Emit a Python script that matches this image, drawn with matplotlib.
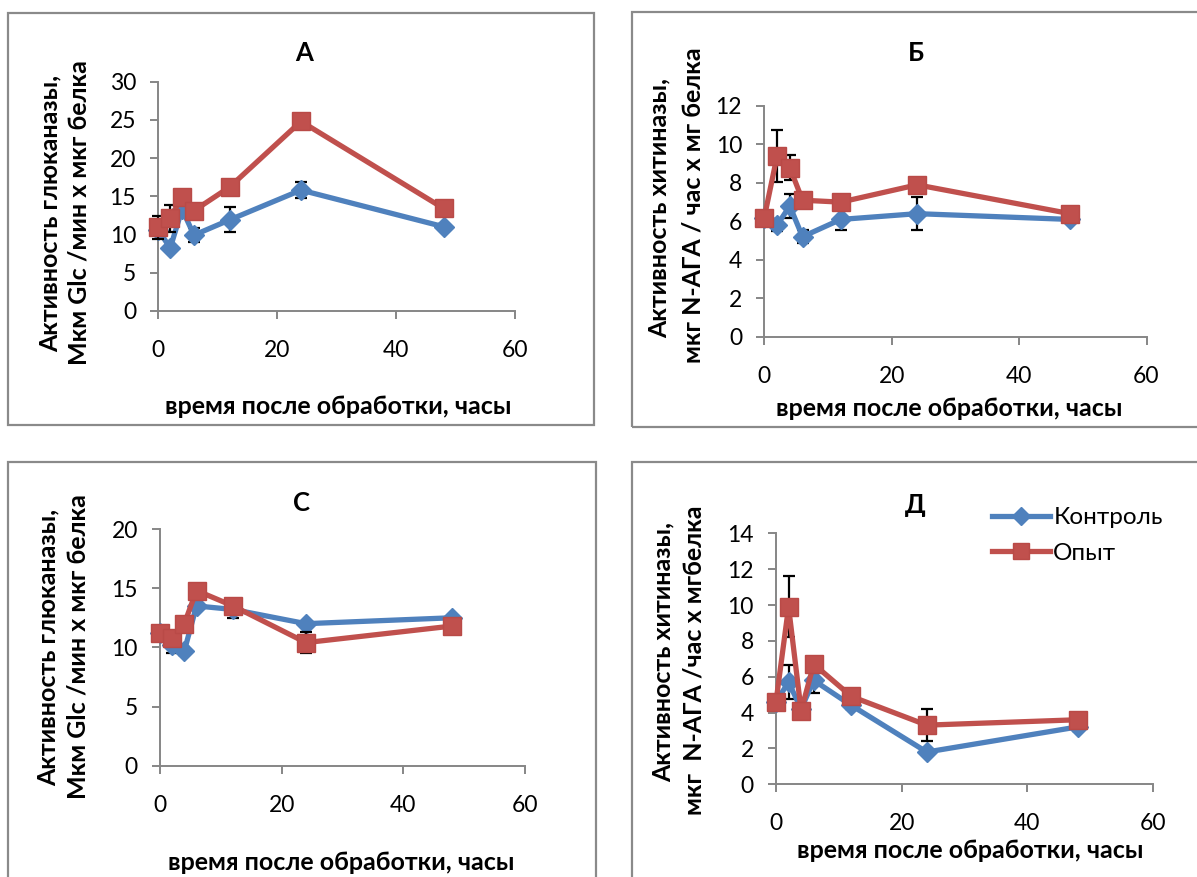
import matplotlib
matplotlib.use('Agg')
import matplotlib.pyplot as plt
from matplotlib.patches import Rectangle

plt.rcParams['font.family'] = ['Lato', 'DejaVu Sans']

# ---------------- data ----------------
hours = [0, 2, 4, 6, 12, 24, 48]
series_names = ['Контроль', 'Опыт']
xlabel_text = 'время после обработки, часы'

# Panel А – glucanase
a_ctrl = [10.6, 8.2, 13.3, 9.9, 11.9, 15.8, 11.0]
a_ctrl_err = [0, 0, 0, 0.9, 1.65, 1.1, 0.3]
a_exp = [10.9, 12.1, 14.9, 13.1, 16.2, 24.8, 13.4]
a_exp_err = [1.55, 1.8, 0, 0, 0, 0, 0]

# Panel Б – chitinase
b_ctrl = [6.2, 5.8, 6.8, 5.2, 6.1, 6.4, 6.1]
b_ctrl_err = [0, 0.3, 0.6, 0.35, 0.55, 0.85, 0]
b_exp = [6.2, 9.4, 8.8, 7.1, 7.0, 7.9, 6.4]
b_exp_err = [0, 1.35, 0.65, 0, 0.35, 0, 0]

# Panel С – glucanase
c_ctrl = [11.2, 10.2, 9.7, 13.5, 13.2, 12.0, 12.5]
c_ctrl_err = [0, 0.65, 0.35, 0.35, 0.75, 0, 0]
c_exp = [11.2, 10.8, 12.0, 14.8, 13.5, 10.4, 11.8]
c_exp_err = [0, 0, 0, 0, 0, 0.9, 0]

# Panel Д – chitinase
d_ctrl = [4.6, 5.7, 4.2, 5.8, 4.4, 1.8, 3.2]
d_ctrl_err = [0, 0.95, 0, 0.7, 0.2, 0, 0.2]
d_exp = [4.6, 9.9, 4.1, 6.7, 4.9, 3.3, 3.6]
d_exp_err = [0, 1.7, 0, 0, 0, 0.9, 0]

x_ticks = [0, 20, 40, 60]
a_yticks = [0, 5, 10, 15, 20, 25, 30]
b_yticks = [0, 2, 4, 6, 8, 10, 12]
c_yticks = [0, 5, 10, 15, 20]
d_yticks = [0, 2, 4, 6, 8, 10, 12, 14]

titles = ['А', 'Б', 'С', 'Д']
ylabels = [
    ('Активность глюканазы,', 'Мкм Glc /мин х мкг белка'),
    ('Активность хитиназы,', 'мкг N-АГА / час х мг белка'),
    ('Активность глюканазы,', 'Мкм Glc /мин х мкг белка'),
    ('Активность хитиназы,', 'мкг  N-АГА /час х мгбелка'),
]

# ---------------- layout ----------------
W, H = 1197, 877
fig = plt.figure(figsize=(W / 100, H / 100), dpi=100)

BLUE = '#4F81BD'
RED = '#C0504D'
AXC = '#868686'
FRAME = '#8A8A8A'


def fx(x):
    return x / W


def fy(y):
    return 1 - y / H


panels = [
    dict(ax=(158.3, 81.7, 515, 310.7), yt=a_yticks,
         ctrl=a_ctrl, ctrl_err=a_ctrl_err, exp=a_exp, exp_err=a_exp_err,
         title=(304, 53), yl_x=(50, 79), yl_y=(213, 213), xl=(338, 407),
         frame=(8, 13, 594, 425)),
    dict(ax=(764.3, 106, 1146.5, 336.7), yt=b_yticks,
         ctrl=b_ctrl, ctrl_err=b_ctrl_err, exp=b_exp, exp_err=b_exp_err,
         title=(916, 53), yl_x=(659, 693), yl_y=(208, 205), xl=(949, 408),
         frame=(632, 12, 1205, 427)),
    dict(ax=(160, 529, 525, 765.7), yt=c_yticks,
         ctrl=c_ctrl, ctrl_err=c_ctrl_err, exp=c_exp, exp_err=c_exp_err,
         title=(302, 503), yl_x=(48, 78), yl_y=(647, 647), xl=(341, 862),
         frame=(8, 462, 596, 890)),
    dict(ax=(776, 533.3, 1153, 784.3), yt=d_yticks,
         ctrl=d_ctrl, ctrl_err=d_ctrl_err, exp=d_exp, exp_err=d_exp_err,
         title=(915, 505), yl_x=(663, 694), yl_y=(652, 660), xl=(970, 850),
         frame=(632, 462, 1205, 890)),
]

TICK_FS = 16.5
LAB_FS = 18
TITLE_FS = 18.5

for i, p in enumerate(panels):
    x0, y0, x1, y1 = p['frame']
    fig.add_artist(Rectangle((fx(x0), fy(y1)), (x1 - x0) / W, (y1 - y0) / H,
                             transform=fig.transFigure, fill=False,
                             ec=FRAME, lw=1.6, zorder=0))
    l, t, r, b = p['ax']
    ax = fig.add_axes([fx(l), fy(b), (r - l) / W, (b - t) / H])
    ax.set_xlim(0, 60)
    ax.set_ylim(p['yt'][0], p['yt'][-1])
    ax.set_xticks(x_ticks)
    ax.set_yticks(p['yt'])
    for s in ['top', 'right']:
        ax.spines[s].set_visible(False)
    for s in ['left', 'bottom']:
        ax.spines[s].set_color(AXC)
        ax.spines[s].set_linewidth(1.4)
    ax.tick_params(axis='both', colors=AXC, length=6, width=1.4,
                   labelcolor='black', labelsize=TICK_FS, direction='out')
    ax.tick_params(axis='x', pad=15)
    ax.tick_params(axis='y', pad=10)

    ax.errorbar(hours, p['ctrl'], yerr=p['ctrl_err'], fmt='none',
                ecolor='black', elinewidth=1.6, capsize=4.5, capthick=1.6,
                zorder=3, clip_on=False)
    ax.plot(hours, p['ctrl'], color=BLUE, lw=3.8, marker='D', ms=10.5,
            mfc=BLUE, mec=BLUE, zorder=4, clip_on=False, label=series_names[0])
    ax.errorbar(hours, p['exp'], yerr=p['exp_err'], fmt='none',
                ecolor='black', elinewidth=1.6, capsize=4.5, capthick=1.6,
                zorder=5, clip_on=False)
    ax.plot(hours, p['exp'], color=RED, lw=3.8, marker='s', ms=13.5,
            mfc=RED, mec='#B94A47', zorder=6, clip_on=False, label=series_names[1])

    fig.text(fx(p['title'][0]), fy(p['title'][1]), titles[i], ha='center',
             va='center', fontsize=TITLE_FS, fontweight='bold')
    for k in range(2):
        fig.text(fx(p['yl_x'][k]), fy(p['yl_y'][k]), ylabels[i][k], rotation=90,
                 ha='center', va='center', fontsize=LAB_FS, fontweight='bold')
    fig.text(fx(p['xl'][0]), fy(p['xl'][1]), xlabel_text, ha='center',
             va='center', fontsize=LAB_FS, fontweight='bold')

    if i == 3:
        ax.legend(loc='upper left', bbox_to_anchor=(fx(992), fy(507)),
                  bbox_transform=fig.transFigure, frameon=False,
                  fontsize=17.5, handlelength=2.4, handletextpad=0.12,
                  labelspacing=0.6, borderaxespad=0, borderpad=0,
                  markerscale=0.9)

fig.savefig('out.png', dpi=100)
